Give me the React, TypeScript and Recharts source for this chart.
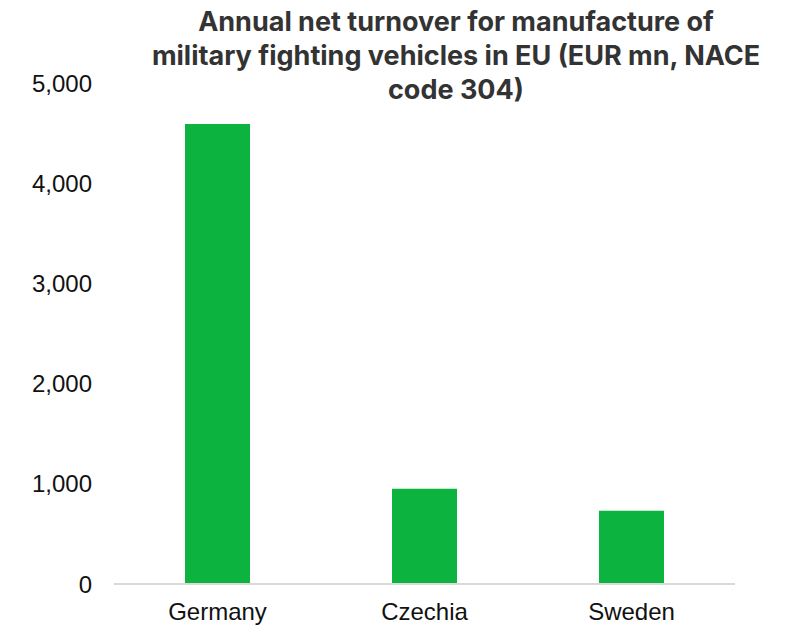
import React from "react";
import { BarChart, Bar, XAxis, YAxis } from "recharts";

const countries = ["Germany", "Czechia", "Sweden"];
const turnover = [4590, 950, 730];
const yTicks = [0, 1000, 2000, 3000, 4000, 5000];

const data = countries.map((name, i) => ({ name, value: turnover[i] }));

const W = 785;
const H = 628;

export default function App() {
  return (
    <div style={{ position: "fixed", left: 0, top: 0, width: W, height: H, background: "#fff" }}>
      <div
        style={{
          position: "absolute",
          left: 106,
          width: 700,
          top: 5,
          textAlign: "center",
          fontFamily: "Inter",
          fontWeight: 700,
          fontSize: 27,
          lineHeight: "34px",
          color: "#333333",
        }}
      >
        Annual net turnover for manufacture of
        <br />
        military fighting vehicles in EU (EUR mn, NACE
        <br />
        code 304)
      </div>
      <BarChart
        width={W}
        height={H}
        data={data}
        margin={{ top: 83, right: 50, bottom: 0, left: 0 }}
      >
        <YAxis
          width={114}
          domain={[0, 5000]}
          ticks={yTicks}
          axisLine={false}
          tickLine={false}
          tickMargin={16}
          tickFormatter={(v: number) => v.toLocaleString("en-US")}
          tick={{ fill: "#111", fontSize: 24, fontFamily: "Liberation Sans, Arial" }}
        />
        <XAxis
          dataKey="name"
          height={44}
          axisLine={{ stroke: "#d9d9d9", strokeWidth: 2 }}
          tickLine={false}
          tickMargin={13}
          tick={{ fill: "#111", fontSize: 24, fontFamily: "Liberation Sans, Arial" }}
        />
        <Bar dataKey="value" fill="#0db33f" barSize={65} isAnimationActive={false} />
      </BarChart>
    </div>
  );
}
